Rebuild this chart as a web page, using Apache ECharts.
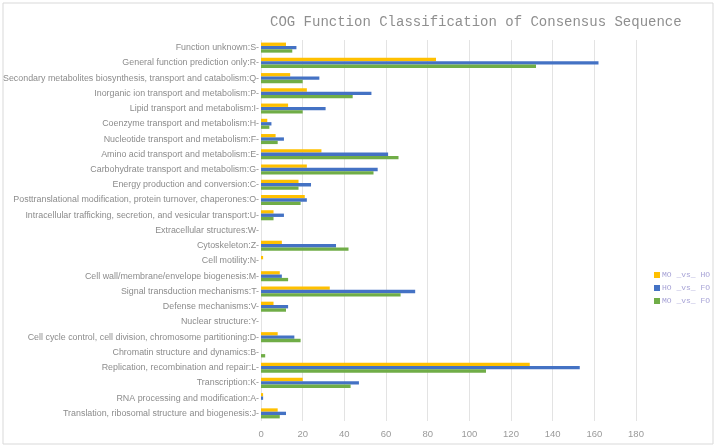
<!DOCTYPE html>
<html><head><meta charset="utf-8">
<script src="https://cdn.jsdelivr.net/npm/echarts@6/dist/echarts.min.js"></script>
<style>html,body{margin:0;padding:0;background:#fff}#c{width:716px;height:448px}</style>
</head><body><div id="c"></div>
<script>
const categories = [
 "Translation, ribosomal structure and biogenesis:J",
 "RNA processing and modification:A",
 "Transcription:K",
 "Replication, recombination and repair:L",
 "Chromatin structure and dynamics:B",
 "Cell cycle control, cell division, chromosome partitioning:D",
 "Nuclear structure:Y",
 "Defense mechanisms:V",
 "Signal transduction mechanisms:T",
 "Cell wall/membrane/envelope biogenesis:M",
 "Cell motility:N",
 "Cytoskeleton:Z",
 "Extracellular structures:W",
 "Intracellular trafficking, secretion, and vesicular transport:U",
 "Posttranslational modification, protein turnover, chaperones:O",
 "Energy production and conversion:C",
 "Carbohydrate transport and metabolism:G",
 "Amino acid transport and metabolism:E",
 "Nucleotide transport and metabolism:F",
 "Coenzyme transport and metabolism:H",
 "Lipid transport and metabolism:I",
 "Inorganic ion transport and metabolism:P",
 "Secondary metabolites biosynthesis, transport and catabolism:Q",
 "General function prediction only:R",
 "Function unknown:S"
];
const MO_vs_HO = [8,1,20,129,0,8,0,6,33,9,1,10,0,6,21,18,22,29,7,3,13,22,14,84,12];
const HO_vs_FO = [12,1,47,153,0,16,0,13,74,10,0,36,0,11,22,24,56,61,11,5,31,53,28,162,17];
const MO_vs_FO = [9,0,43,108,2,19,0,12,67,13,0,42,0,6,19,18,54,66,8,4,20,44,20,132,15];
const seriesNames = ["MO _vs_ HO","HO _vs_ FO","MO _vs_ FO"];
const xTicks = [0,20,40,60,80,100,120,140,160,180];

const chart = echarts.init(document.getElementById('c'));
const mk = (name, data, color) => ({
  name, type:'bar', data, itemStyle:{color},
  barGap:'0%', barCategoryGap:'34%'
});
chart.setOption({
  animation:false,
  title:{text:'COG Function Classification of Consensus Sequence', left:265, top:10,
    textStyle:{fontFamily:'Liberation Mono', fontSize:14, fontWeight:'normal', color:'#8f8f8f'}},
  legend:{orient:'vertical', left:649, top:266, itemWidth:6, itemHeight:6, itemGap:5,
    icon:'rect', data:seriesNames,
    textStyle:{fontFamily:'Liberation Mono', fontSize:8, color:'#a7a3d6', padding:[0,0,0,-3]}},
  graphic:[{type:'rect', shape:{x:3,y:3,width:710,height:441}, silent:true,
    style:{fill:'none', stroke:'#d9d9d9', lineWidth:1}}],
  grid:{left:261, width:375, top:40, height:381, containLabel:false},
  xAxis:{type:'value', min:0, max:180, interval:20,
    axisLine:{show:false}, axisTick:{show:false},
    splitLine:{lineStyle:{color:'#e3e3e3', width:1}},
    axisLabel:{fontFamily:'Liberation Sans', fontSize:9.5, color:'#9a9a9a', margin:8,
      formatter:v => xTicks.includes(v) ? String(v) : ''}},
  yAxis:{type:'category', data:categories,
    axisLine:{show:false},
    axisTick:{show:false},
    axisLabel:{fontFamily:'Liberation Sans', fontSize:8.9, color:'#8c8c8c', margin:2,
      formatter:v => v + '-'}},
  series:[mk(seriesNames[0], MO_vs_HO, '#FFC000'), mk(seriesNames[1], HO_vs_FO, '#4472C4'), mk(seriesNames[2], MO_vs_FO, '#70AD47')]
});
</script></body></html>
